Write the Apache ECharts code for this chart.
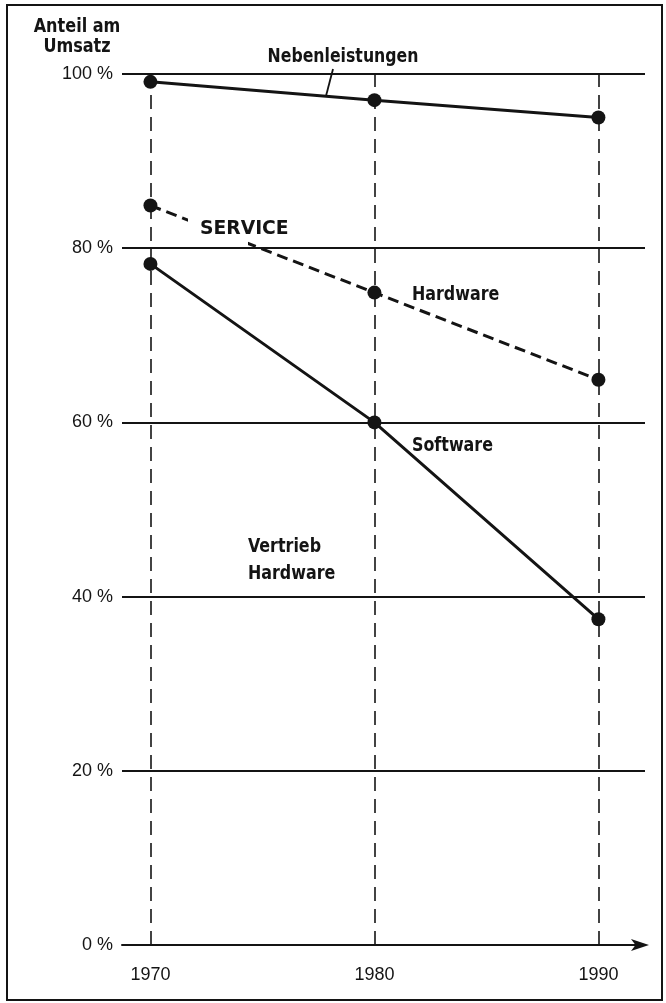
<!DOCTYPE html>
<html>
<head>
<meta charset="utf-8">
<script src="https://cdn.jsdelivr.net/npm/echarts@6/dist/echarts.min.js"></script>
<style>
  html, body { margin: 0; padding: 0; background: #fff; }
  #chart { width: 666px; height: 1003px; }
</style>
</head>
<body>
<div id="chart"></div>
<script>
// data
const years = [1970, 1980, 1990];
const nebenleistungen = [99.1, 97.0, 95.0];
const hardware = [84.9, 74.9, 64.9];
const software = [78.2, 60.0, 37.4];
const yTicks = [0, 20, 40, 60, 80, 100];

const ink = '#141414';
const boldFont = '"DejaVu Sans Condensed", "DejaVu Sans", sans-serif';
const tickFont = '"Liberation Sans", Arial, sans-serif';

const chart = echarts.init(document.getElementById('chart'));

const toPoints = vals => years.map((y, i) => [y, vals[i]]);

// one line series with round dots
const lineSeries = (name, vals, dashed) => ({
  name: name,
  type: 'line',
  data: toPoints(vals),
  symbol: 'circle',
  symbolSize: 14,
  silent: true,
  z: 5,
  itemStyle: { color: ink },
  lineStyle: { color: ink, width: 3, type: dashed ? [11, 6] : 'solid' }
});

// bold condensed annotation text
const label = (text, x, y, size, align, sx) => ({
  type: 'text', x: x, y: y, scaleX: sx, z: 20,
  style: {
    text: text, font: 'bold ' + size + 'px ' + boldFont, fill: ink,
    align: align, verticalAlign: 'middle'
  }
});

const option = {
  animation: false,
  backgroundColor: '#fff',
  grid: { left: 122, right: 21, top: 74, bottom: 58 },
  xAxis: {
    type: 'value',
    min: 1968.73,
    max: 1992.08,
    splitLine: { show: false },
    axisTick: { show: false },
    axisLine: {
      lineStyle: { color: ink, width: 2 },
      symbol: ['none', 'arrow'],
      symbolSize: [9, 18],
      symbolOffset: [0, 4]
    },
    axisLabel: {
      formatter: v => (years.indexOf(v) >= 0 ? String(v) : ''),
      color: ink,
      fontFamily: tickFont,
      fontSize: 18,
      margin: 21,
      showMinLabel: false,
      showMaxLabel: false
    }
  },
  yAxis: {
    type: 'value',
    min: yTicks[0],
    max: yTicks[yTicks.length - 1],
    interval: 20,
    axisLine: { show: false },
    axisTick: { show: false },
    splitLine: { lineStyle: { color: ink, width: 2 } },
    axisLabel: {
      formatter: v => v + ' %',
      color: ink,
      fontFamily: tickFont,
      fontSize: 18,
      margin: 9
    }
  },
  series: [
    {
      // vertical dashed year lines
      type: 'line',
      data: [],
      silent: true,
      markLine: {
        silent: true,
        symbol: 'none',
        label: { show: false },
        lineStyle: { color: ink, width: 1.6, type: [14, 8] },
        data: years.map(y => ({ xAxis: y }))
      }
    },
    lineSeries('Nebenleistungen', nebenleistungen, false),
    lineSeries('Hardware', hardware, true),
    lineSeries('Software', software, false)
  ],
  graphic: [
    {
      type: 'rect', z: 20,
      shape: { x: 7, y: 5, width: 655, height: 995 },
      style: { fill: null, stroke: ink, lineWidth: 2 }
    },
    // white patch that interrupts the dashed line under SERVICE
    {
      type: 'rect', z: 15,
      shape: { x: 188, y: 213, width: 60, height: 32 },
      style: { fill: '#fff' }
    },
    label('Anteil am', 77, 27, 19, 'center', 0.94),
    label('Umsatz', 77, 47, 19, 'center', 0.94),
    label('Nebenleistungen', 343, 57, 19, 'center', 0.92),
    {
      type: 'line', z: 20,
      shape: { x1: 333, y1: 69, x2: 326, y2: 96 },
      style: { stroke: ink, lineWidth: 1.8 }
    },
    label('SERVICE', 200, 229, 20, 'left', 1.04),
    label('Hardware', 412, 295, 19, 'left', 0.93),
    label('Software', 412, 446, 19, 'left', 0.93),
    label('Vertrieb', 248, 547, 19, 'left', 0.93),
    label('Hardware', 248, 574, 19, 'left', 0.93)
  ]
};

chart.setOption(option);
</script>
</body>
</html>
